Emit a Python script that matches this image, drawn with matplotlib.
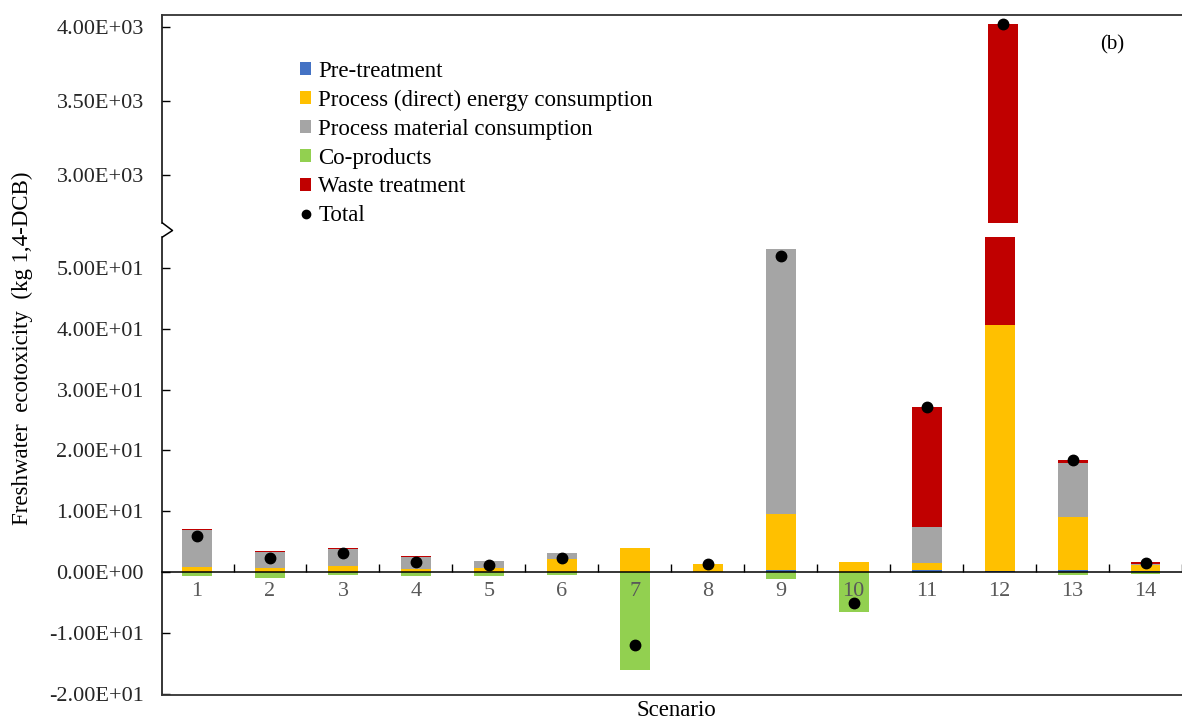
import matplotlib
matplotlib.use("Agg")
import matplotlib.pyplot as plt
from matplotlib.lines import Line2D
from matplotlib.patches import Patch
import numpy as np

plt.rcParams['font.family'] = ['Liberation Serif', 'DejaVu Serif']

# Scenario contributions, kg 1,4-DCB eq
scenarios = [str(i) for i in range(1, 15)]
pre_treatment = [0.1, 0.1, 0.1, 0.1, 0.1, 0.1, 0.1, 0.05, 0.3, 0.05, 0.3, 0.2, 0.3, 0.2]
energy = [0.8, 0.55, 0.85, 0.4, 0.55, 2.1, 3.85, 1.25, 9.3, 1.55, 1.2, 40.4, 8.8, 1.0]
material = [6.0, 2.65, 2.85, 1.95, 1.25, 0.9, 0.0, 0.0, 43.5, 0.0, 5.9, 0.0, 8.8, 0.1]
co_products = [-0.7, -1.0, -0.5, -0.6, -0.6, -0.4, -16.05, 0.0, -1.2, -6.5, -0.1, 0.0, -0.5, -0.3]
waste = [0.2, 0.25, 0.25, 0.2, 0.0, 0.0, 0.0, 0.0, 0.0, 0.0, 19.8, 3979.4, 0.6, 0.3]
total = [6.0, 2.4, 3.1, 1.7, 1.2, 2.4, -11.9, 1.3, 52.0, -5.0, 27.1, 4020.0, 18.4, 1.5]

upper_ticks = [3000, 3500, 4000]
lower_ticks = [-20, -10, 0, 10, 20, 30, 40, 50]

c_pre = '#4472C4'
c_energy = '#FFC000'
c_mat = '#A5A5A5'
c_co = '#92D050'
c_waste = '#C00000'

W, H = 1182, 724
fig = plt.figure(figsize=(W / 100, H / 100), dpi=100)


def fx(px):
    return px / W


def fy(py):
    return 1 - py / H


left, right = 162, 1182
ax_top = fig.add_axes([fx(left), fy(223), fx(right - left), fy(15) - fy(223)])
ax_bot = fig.add_axes([fx(left), fy(695), fx(right - left), fy(237) - fy(695)])

x = np.arange(1, len(scenarios) + 1)
width = 0.41


def draw_stack(ax):
    base = np.zeros(len(x))
    for vals, col in [(pre_treatment, c_pre), (energy, c_energy),
                      (material, c_mat), (waste, c_waste)]:
        v = np.array(vals)
        ax.bar(x, v, width, bottom=base, color=col, linewidth=0, zorder=2)
        base = base + v
    ax.bar(x, co_products, width, color=c_co, linewidth=0, zorder=2)
    ax.plot(x, total, 'o', color='black', markersize=7.5, zorder=4)
    ax.set_xlim(0.52, 14.44)
    ax.set_axisbelow(False)


draw_stack(ax_top)
draw_stack(ax_bot)

tick_font = 16
ax_top.set_ylim(2676, 4081)
ax_bot.set_ylim(-20.2, 55.1)

for ax, ticks in [(ax_top, upper_ticks), (ax_bot, lower_ticks)]:
    ax.set_yticks(ticks)
    ax.set_yticklabels([f"{t:.2E}" for t in ticks])
    ax.tick_params(axis='y', direction='in', length=6, width=1.0, pad=13,
                   labelsize=tick_font, labelcolor='#262626')
    ax.spines['right'].set_visible(False)
    ax.spines['left'].set_linewidth(1.1)

# upper panel: frame top only
ax_top.spines['bottom'].set_visible(False)
ax_top.spines['top'].set_linewidth(1.3)
ax_top.spines['top'].set_color('#333333')
ax_top.set_xticks([])

# lower panel: category axis on the zero line
ax_bot.spines['top'].set_visible(False)
ax_bot.spines['bottom'].set_position(('data', 0))
ax_bot.spines['bottom'].set_linewidth(1.1)
ax_bot.set_xticks(x)
ax_bot.set_xticklabels(scenarios)
ax_bot.set_xticks(np.arange(1.5, 15, 1.0), minor=True)
ax_bot.tick_params(axis='x', which='major', length=0, pad=7,
                   labelsize=tick_font, labelcolor='#595959')
ax_bot.tick_params(axis='x', which='minor', direction='in', length=6, width=1.0)
ax_bot.plot([0, 1], [0, 0], transform=ax_bot.transAxes, color='#333333',
            linewidth=1.3, clip_on=False, zorder=5)

# break mark on the value axis
fig.add_artist(Line2D([fx(162.5), fx(172.5), fx(162.5)],
                      [fy(223), fy(230.5), fy(237)],
                      transform=fig.transFigure, color='black', linewidth=1.1))

fig.text(fx(22), fy(348), 'Freshwater  ecotoxicity  (kg 1,4-DCB)', rotation=90,
         ha='center', va='center', fontsize=16.5)
fig.text(fx(676), fy(711), 'Scenario', ha='center', va='center', fontsize=16.5)
fig.text(fx(1112), fy(45), '(b)', ha='center', va='center', fontsize=15)

handles = [
    Patch(facecolor=c_pre, label='Pre-treatment'),
    Patch(facecolor=c_energy, label='Process (direct) energy consumption'),
    Patch(facecolor=c_mat, label='Process material consumption'),
    Patch(facecolor=c_co, label='Co-products'),
    Patch(facecolor=c_waste, label='Waste treatment'),
    Line2D([], [], marker='o', color='black', linestyle='none', markersize=6,
           label='Total'),
]
fig.legend(handles=handles, loc='upper left', bbox_to_anchor=(fx(300), fy(61)),
           frameon=False, fontsize=16.5, handlelength=0.5, handleheight=0.5,
           handletextpad=0.3, labelspacing=0.34, borderpad=0, borderaxespad=0)

fig.savefig('out.png', dpi=100)
